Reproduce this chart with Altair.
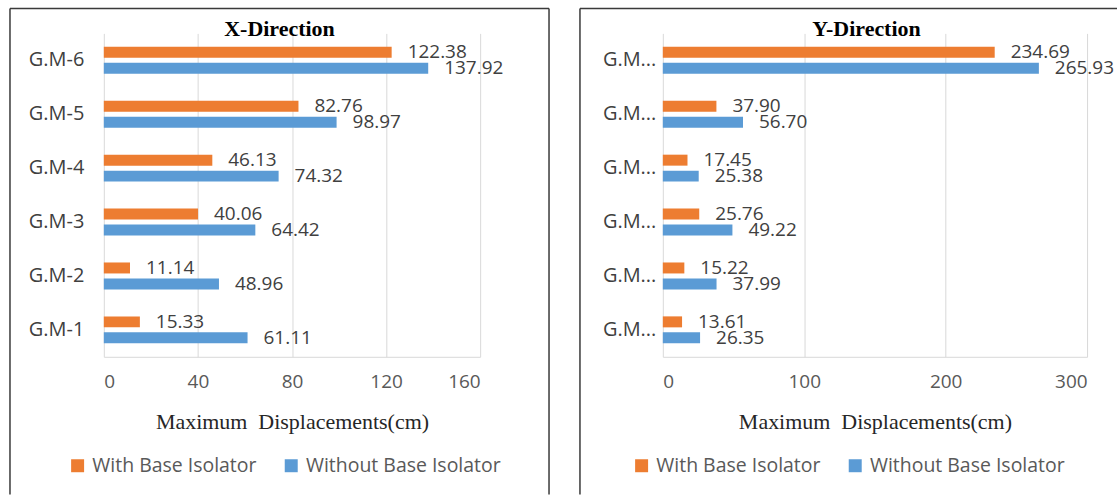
import altair as alt
import pandas as pd

# Ground motions, listed bottom to top as they appear on the axis
ground_motions = ["G.M-1", "G.M-2", "G.M-3", "G.M-4", "G.M-5", "G.M-6"]
series_names = ["With Base Isolator", "Without Base Isolator"]
series_colors = ["#ED7D31", "#5B9BD5"]

# Maximum displacements (cm), X direction
x_with_isolator = [15.33, 11.14, 40.06, 46.13, 82.76, 122.38]
x_without_isolator = [61.11, 48.96, 64.42, 74.32, 98.97, 137.92]

# Maximum displacements (cm), Y direction
y_with_isolator = [13.61, 15.22, 25.76, 17.45, 37.90, 234.69]
y_without_isolator = [26.35, 37.99, 49.22, 25.38, 56.70, 265.93]

x_ticks = [0, 40, 80, 120, 160]
y_ticks = [0, 100, 200, 300]

panel_titles = ["X-Direction", "Y-Direction"]

SANS = "Open Sans"
SERIF = "Liberation Serif"
TEXT_DARK = "#404040"
GRID = "#d9d9d9"
FRAME = "#3a3a3a"
AXIS_TITLE = "Maximum\u00a0\u00a0Displacements(cm)"


def long_table(with_vals, without_vals):
    rows = []
    for gm, a, b in zip(ground_motions, with_vals, without_vals):
        rows.append({"gm": gm, "series": series_names[0], "value": a})
        rows.append({"gm": gm, "series": series_names[1], "value": b})
    return pd.DataFrame(rows)


def panel(df, title, title_x, ticks, width, label_pad, legend_x, frame_left,
          frame_right, draw_right_edge, truncate_labels):
    height = 324
    top_down = list(reversed(ground_motions))

    y_axis_args = dict(
        title=None, domain=False, ticks=False, grid=False,
        labelFont=SANS, labelFontSize=20, labelColor=TEXT_DARK,
        labelPadding=label_pad,
    )
    if truncate_labels:
        y_axis_args["labelExpr"] = "slice(datum.label, 0, 3) + '...'"

    x_enc = alt.X(
        "value:Q",
        scale=alt.Scale(domain=[ticks[0], ticks[-1]], nice=False),
        axis=alt.Axis(
            values=ticks, title=AXIS_TITLE, grid=True, gridColor=GRID,
            gridWidth=1, domainColor=GRID, domainWidth=1, ticks=False,
            labelFont=SANS, labelFontSize=19, labelColor="#595959",
            labelPadding=16, titleFont=SERIF, titleFontSize=22,
            titleFontWeight="normal", titleColor="#262626",
            titleY=72, titleBaseline="alphabetic",
        ),
    )
    y_enc = alt.Y(
        "gm:N", sort=top_down,
        scale=alt.Scale(paddingInner=0.5, paddingOuter=0.25),
        axis=alt.Axis(**y_axis_args),
    )
    y_off = alt.YOffset(
        "series:N", sort=series_names,
        scale=alt.Scale(paddingInner=0.3125, paddingOuter=0),
    )

    bars = alt.Chart(df).mark_bar().encode(
        x=x_enc,
        y=y_enc,
        yOffset=y_off,
        color=alt.Color(
            "series:N",
            scale=alt.Scale(domain=series_names, range=series_colors),
            legend=alt.Legend(
                title=None, orient="none", direction="horizontal",
                legendX=legend_x, legendY=423, padding=0,
                symbolType="square", symbolSize=169, symbolStrokeWidth=0,
                labelFont=SANS, labelFontSize=19.5, labelColor="#595959",
                labelOffset=5, columnPadding=24, labelLimit=400,
            ),
        ),
    )

    labels = alt.Chart(df).mark_text(
        align="left", baseline="middle", dx=16,
        font=SANS, fontSize=19, color=TEXT_DARK,
    ).encode(
        x="value:Q",
        y=alt.Y("gm:N", sort=top_down),
        yOffset=alt.YOffset("series:N", sort=series_names),
        text=alt.Text("value:Q", format=".2f"),
    )

    # Panel heading, sitting just over the plot area inside the border
    heading = alt.Chart(alt.Data(values=[{"t": title}])).mark_text(
        font=SERIF, fontSize=22, fontWeight="bold", color="#000000",
        align="center", baseline="alphabetic",
    ).encode(text="t:N", x=alt.value(title_x), y=alt.value(3))

    # Outer border drawn around the panel
    one = alt.Data(values=[{"k": 0}])
    frame_top = alt.Chart(one).mark_rule(color=FRAME, strokeWidth=1.5).encode(
        x=alt.value(frame_left), x2=alt.value(frame_right), y=alt.value(-25)
    )
    frame_lhs = alt.Chart(one).mark_rule(color=FRAME, strokeWidth=1.5).encode(
        x=alt.value(frame_left), y=alt.value(-25), y2=alt.value(462)
    )
    layers = [bars, labels, heading, frame_top, frame_lhs]
    if draw_right_edge:
        frame_rhs = alt.Chart(one).mark_rule(color=FRAME, strokeWidth=1.5).encode(
            x=alt.value(frame_right), y=alt.value(-25), y2=alt.value(462)
        )
        layers.append(frame_rhs)

    return alt.layer(*layers).properties(width=width, height=height)


left = panel(long_table(x_with_isolator, x_without_isolator), panel_titles[0],
             176, x_ticks, 377, 20, -36, -94, 446, True, False)
right = panel(long_table(y_with_isolator, y_without_isolator), panel_titles[1],
              204, y_ticks, 425, 7, -31, -83, 455, False, True)

chart = alt.hconcat(left, right, spacing=183, bounds="flush").resolve_scale(
    color="independent", x="independent", y="independent"
).resolve_legend(color="independent").configure_view(
    stroke="transparent"
).properties(
    padding={"left": 8, "top": 6, "right": 0, "bottom": 0},
    background="#ffffff",
)

chart.save("out.html", embed_options={"renderer": "svg", "actions": False})
